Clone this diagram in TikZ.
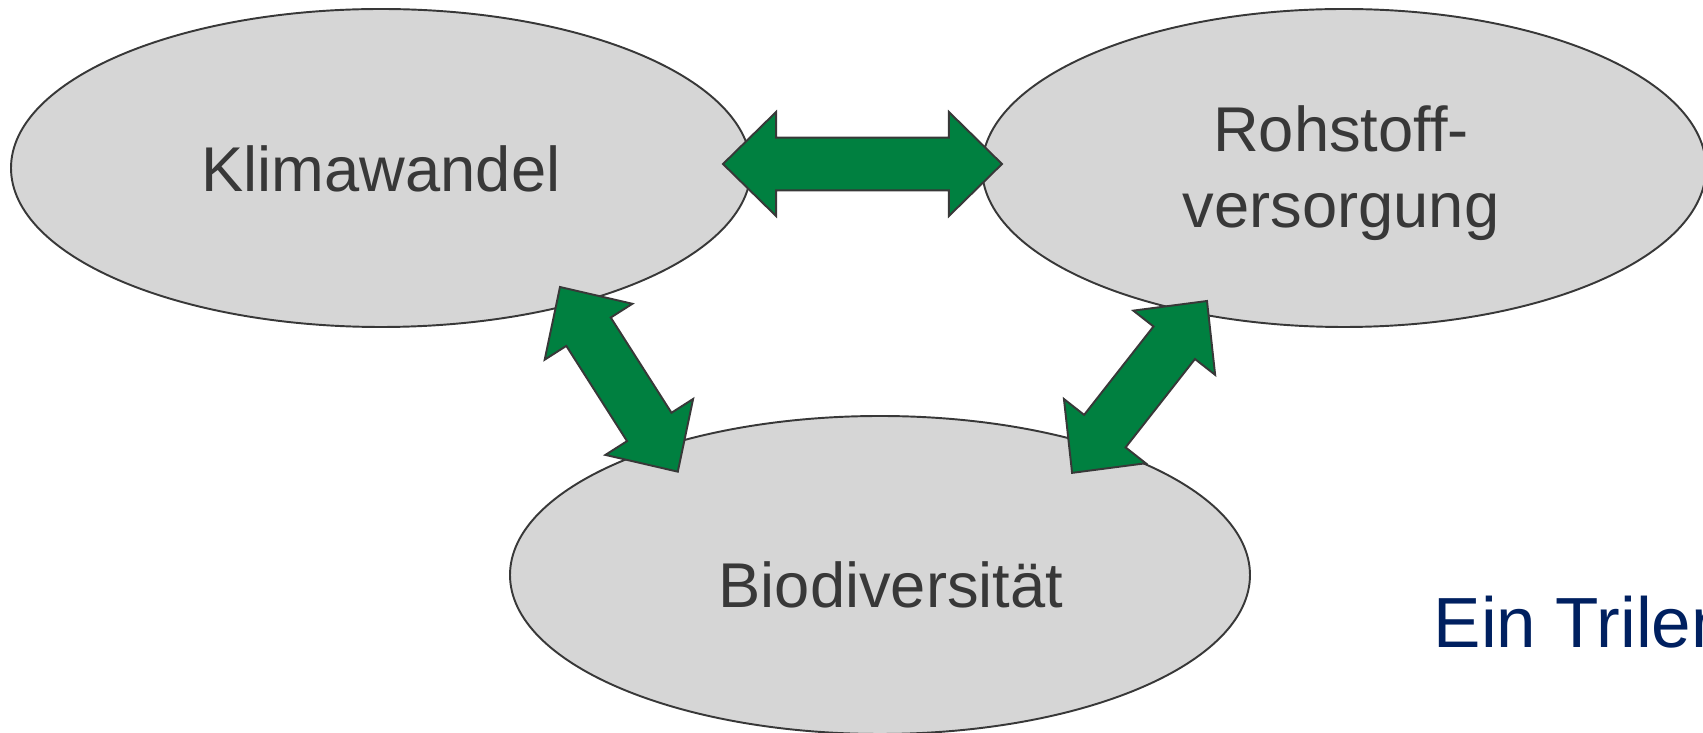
\documentclass[tikz,border=0pt]{standalone}
\usepackage{fontspec}
\setmainfont{Liberation Sans}
\usetikzlibrary{calc,shapes.geometric}

\definecolor{blobgray}{HTML}{D6D6D6}
\definecolor{edgegray}{HTML}{383838}
\definecolor{arrowgreen}{HTML}{008040}
\definecolor{titleblue}{HTML}{002060}

\tikzset{
  blob/.style={ellipse,draw=edgegray,fill=blobgray,line width=0.55pt,minimum width=74mm,minimum height=31.8mm,inner sep=0pt},
  blobtext/.style={text=edgegray,font=\fontsize{18}{21.6}\selectfont,align=center,inner sep=0pt},
  twoway/.style={draw=edgegray,fill=arrowgreen,line width=0.55pt,line join=miter}
}

\newcommand{\twowayarrow}[2]{%
  \path[twoway] let \p1=($(#2)-(#1)$), \n1={atan2(\y1,\x1)}, \n2={veclen(\x1,\y1)} in
    [shift={(#1)},rotate=\n1]
    (0pt,0pt) -- (15.1pt,14.8pt) -- (15.1pt,7.5pt) -- ({\n2-15.1pt},7.5pt) -- ({\n2-15.1pt},14.8pt)
    -- (\n2,0pt) -- ({\n2-15.1pt},-14.8pt) -- ({\n2-15.1pt},-7.5pt) -- (15.1pt,-7.5pt) -- (15.1pt,-14.8pt) -- cycle;}

\begin{document}
\begin{tikzpicture}[x=0.1mm,y=-0.1mm]
        \useasboundingbox (0,0) rectangle (1703,733);
        \clip (0,0) rectangle (1703,733);
        \node[blob] (kw) at (381,168) {};
        \node[blob,minimum width=72.4mm] (rv) at (1344,168) {};
        \node[blob] (bd) at (880,575) {};
        \coordinate (kwright) at (723,164);
        \coordinate (rvleft) at (1002,164);
        \coordinate (kwlow) at (560,287);
        \coordinate (bdleft) at (678,472);
        \coordinate (rvlow) at (1207,301);
        \coordinate (bdright) at (1072,473);
        \twowayarrow{kwright}{rvleft}
        \twowayarrow{kwlow}{bdleft}
        \twowayarrow{rvlow}{bdright}
        \node[blobtext,anchor=base] (kwlabel) at (381,192) {Klimawandel};
        \node[blobtext] (rvlabel) at (1341,173) {Rohstoff-\\versorgung};
        \node[blobtext,anchor=base] (bdlabel) at (891,608) {Biodiversität};
        \node[text=titleblue,font=\fontsize{20.2}{24}\selectfont,anchor=base west,inner sep=0pt] (title) at (1433,648) {Ein Trilemma};
      \end{tikzpicture}
\end{document}
